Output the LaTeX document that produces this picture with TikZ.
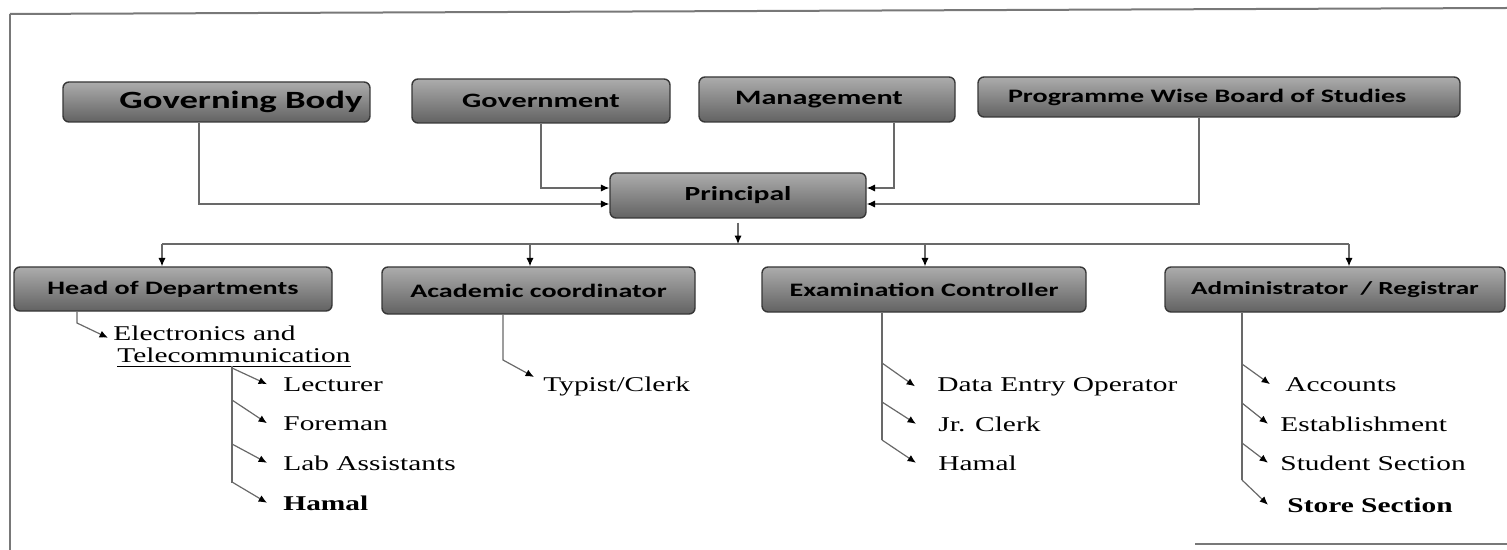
\documentclass[tikz,border=0pt]{standalone}
\usepackage{fontspec}
\usetikzlibrary{arrows.meta}
\newfontfamily\boxfont[FakeStretch=1.48]{Carlito}
\newfontfamily\serfont[FakeStretch=1.4]{Liberation Serif}
\definecolor{linegray}{RGB}{105,105,105}
\definecolor{boxedge}{RGB}{55,55,55}
\definecolor{boxtop}{RGB}{172,172,172}
\definecolor{boxbot}{RGB}{98,98,98}
\definecolor{framegray}{RGB}{120,120,120}
\begin{document}
\begin{tikzpicture}[x=0.5pt,y=-0.5pt,
  obox/.style={draw=boxedge, line width=0.7pt, rounded corners=3pt, top color=boxtop, bottom color=boxbot, inner sep=0pt, text=black},
  topfont/.style={font=\boxfont\bfseries\fontsize{10.2}{12}\selectfont},
  midfont/.style={font=\boxfont\bfseries\fontsize{9.5}{11}\selectfont},
  conn/.style={draw=linegray, line width=0.6pt},
  arr/.style={conn, -{Latex[length=4.2pt,width=3.6pt,color=black]}},
  item/.style={anchor=base west, inner sep=0pt, font=\serfont\fontsize{10.5}{12}\selectfont}
]
\useasboundingbox (0,0) rectangle (1507,550);
% frame
\draw[framegray, line width=1.4pt] (10,550) -- (10,14);
\draw[framegray, line width=1pt] (10,14) -- (1507,8);
\draw[framegray, line width=1pt] (1195,544) -- (1507,544);

% top row
\node[obox, minimum width=153.5pt, minimum height=20pt, text width=146pt, align=right,
      font=\boxfont\bfseries\fontsize{12.4}{14}\selectfont] (gb) at (216.5,102) {Governing Body};
\node[obox, topfont, minimum width=129pt, minimum height=22pt] (gov) at (541,101) {Government};
\node[obox, topfont, minimum width=128pt, minimum height=22.5pt, text width=118pt, align=center] (mg) at (827,99.5) {\hspace*{-8pt}Management};
\node[obox, font=\boxfont\bfseries\fontsize{9.5}{11}\selectfont, minimum width=241pt, minimum height=20pt, text width=211pt, align=left] (pg) at (1219,97) {Programme Wise Board of Studies};
\node[obox, font=\boxfont\bfseries\fontsize{10}{12}\selectfont, minimum width=128pt, minimum height=22.5pt] (pr) at (738,195.5) {Principal};

% second row
\node[obox, midfont, minimum width=159pt, minimum height=22pt] (hod) at (173,289) {Head of Departments};
\node[obox, midfont, minimum width=156.5pt, minimum height=23.5pt] (ac) at (538.5,290.5) {Academic coordinator};
\node[obox, midfont, minimum width=162pt, minimum height=22.5pt] (ex) at (924,289.5) {Examination Controller};
\node[obox, font=\boxfont\bfseries\fontsize{9.2}{11}\selectfont, minimum width=170pt, minimum height=22.5pt] (ad) at (1335,289.5) {Administrator\ \ / Registrar};

% connectors into principal
\coordinate (gbx) at (199,0);
\coordinate (mgx) at (894,0);
\coordinate (pgx) at (1199,0);
\draw[arr] (gb.south -| gbx) |- ([yshift=-4.25pt]pr.west);
\draw[arr] (gov.south) |- ([yshift=3.75pt]pr.west);
\draw[arr] (mg.south -| mgx) |- ([yshift=3.75pt]pr.east);
\draw[arr] (pg.south -| pgx) |- ([yshift=-4.25pt]pr.east);

% distribution
\coordinate (d1) at (162,244);
\coordinate (d2) at (530,244);
\coordinate (d3) at (925,244);
\coordinate (d4) at (1349,244);
\draw[conn] (d1) -- (d4);
\draw[arr] ([yshift=-2pt]pr.south) -- (pr.south |- d1);
\draw[arr] (d1) -- (d1 |- hod.north);
\draw[arr] (d2) -- (d2 |- ac.north);
\draw[arr] (d3) -- (d3 |- ex.north);
\draw[arr] (d4) -- (d4 |- ad.north);

% Head of departments items
\node[item] (elec) at (113,340) {Electronics and};
\node[item] (tel) at (117,362) {Telecommunication};
\draw[black, line width=0.5pt] ([yshift=-2pt]tel.base west) -- ([yshift=-2pt]tel.base east);
\node[item] (lect) at (283,391) {Lecturer};
\node[item] (fore) at (283,430) {Foreman};
\node[item] (lab) at (283,470) {Lab Assistants};
\node[item] (hm1) at (283,510) {\bfseries Hamal};
\coordinate (hx) at (77,323);
\draw[arr] (hod.south -| hx) -- (hx) -- ([shift={(-2.5pt,-2.5pt)}]elec.west);
\coordinate (t0) at (232,366);
\coordinate (t1) at (232,483);
\draw[conn] (t0) -- (t1);
\coordinate (b1) at (232,368);
\coordinate (b2) at (232,400);
\coordinate (b3) at (232,444);
\coordinate (b4) at (232,482);
\draw[arr] (b1) -- ([xshift=-8pt]lect.west);
\draw[arr] (b2) -- ([xshift=-8pt]fore.west);
\draw[arr] (b3) -- ([xshift=-8pt]lab.west);
\draw[arr] (b4) -- ([xshift=-8pt]hm1.west);

% Academic coordinator
\node[item] (typ) at (543,391) {Typist/Clerk};
\coordinate (ax) at (503,360);
\draw[arr] (ac.south -| ax) -- (ax) -- ([shift={(-4.5pt,4.5pt)}]typ.west);

% Examination controller
\node[item] (dat) at (937,391) {Data Entry Operator};
\node[item] (jrc) at (938,431) {Jr. Clerk};
\node[item] (hm2) at (938,470) {Hamal};
\coordinate (ex0) at (882,0);
\coordinate (e1) at (882,363);
\coordinate (e2) at (882,402);
\coordinate (e3) at (882,440);
\draw[conn] (ex.south -| ex0) -- (e3);
\draw[arr] (e1) -- ([xshift=-11pt]dat.west);
\draw[arr] (e2) -- ([xshift=-11pt]jrc.west);
\draw[arr] (e3) -- ([xshift=-11pt]hm2.west);

% Administrator
\node[item] (acc) at (1285,391) {Accounts};
\node[item] (est) at (1280,431) {Establishment};
\node[item] (stu) at (1280,470) {Student Section};
\node[item] (sto) at (1287,512) {\bfseries Store Section};
\coordinate (ad0) at (1242,0);
\coordinate (a1) at (1242,364);
\coordinate (a2) at (1242,403);
\coordinate (a3) at (1242,443);
\coordinate (a4) at (1242,480);
\draw[conn] (ad.south -| ad0) -- (a4);
\draw[arr] (a1) -- ([xshift=-7.5pt]acc.west);
\draw[arr] (a2) -- ([xshift=-6pt]est.west);
\draw[arr] (a3) -- ([xshift=-6pt]stu.west);
\draw[arr] (a4) -- ([xshift=-9.5pt]sto.west);
\end{tikzpicture}
\end{document}
